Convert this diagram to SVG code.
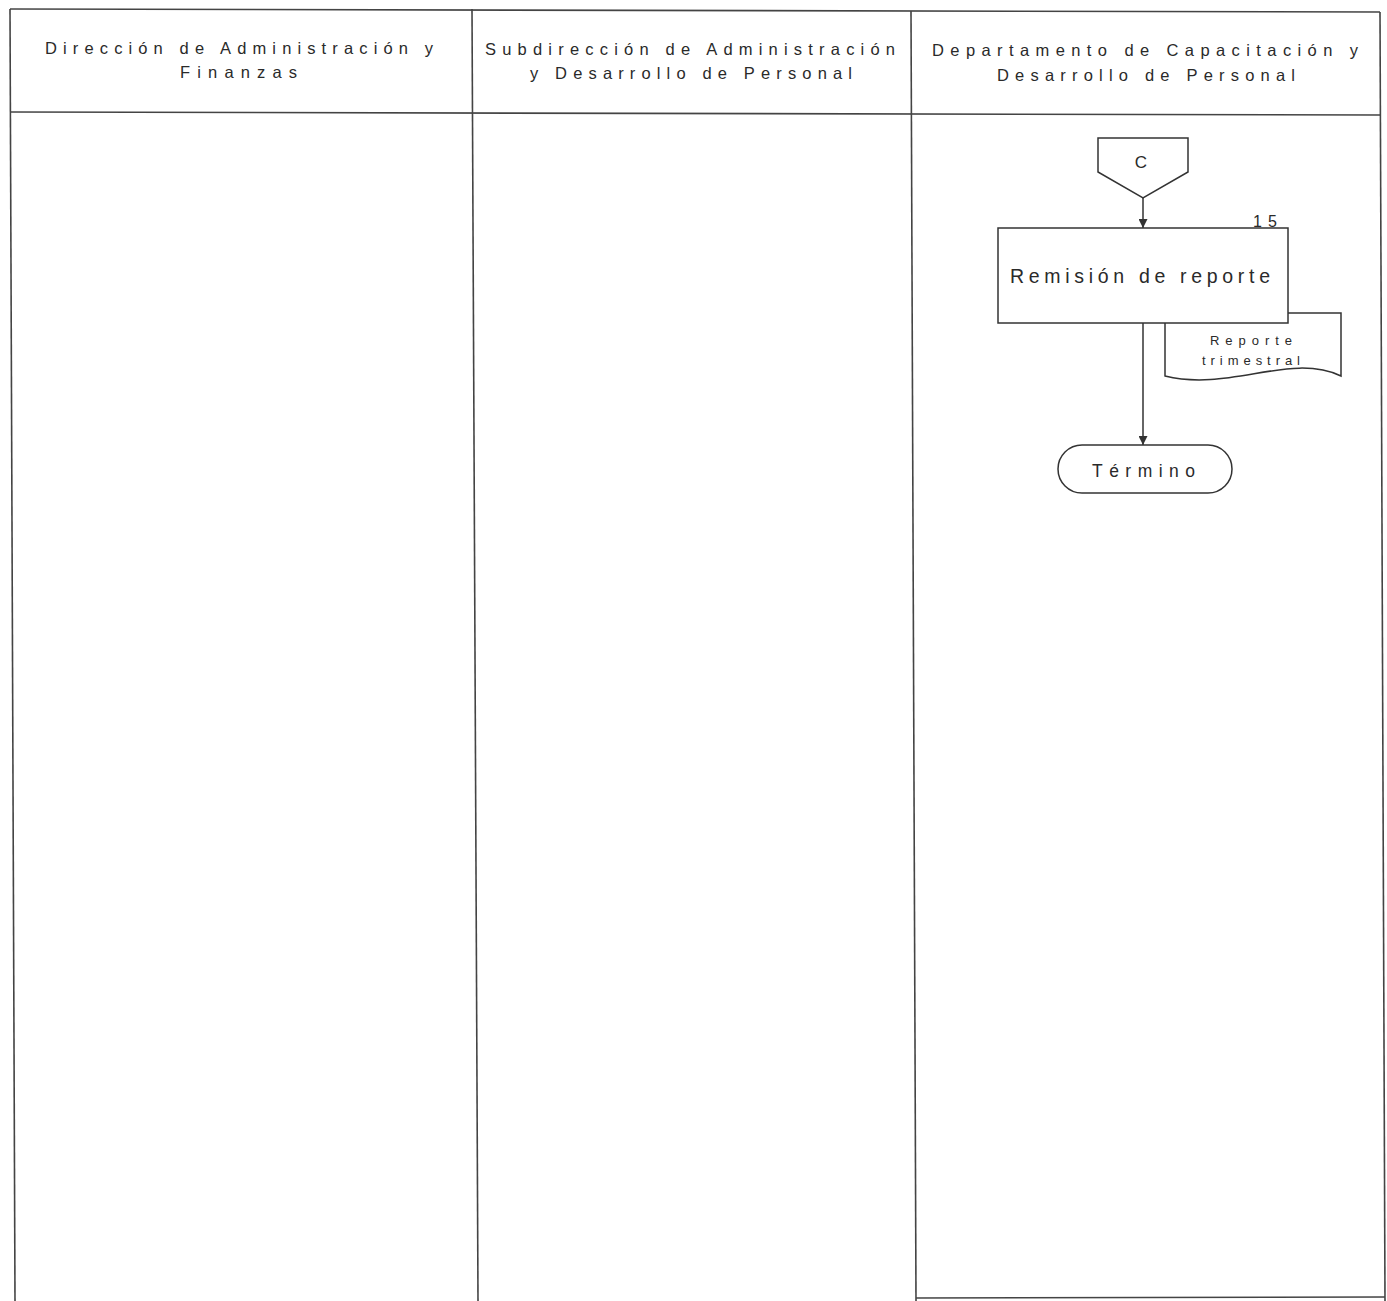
<svg xmlns="http://www.w3.org/2000/svg" width="1387" height="1301" viewBox="0 0 1387 1301">
<style>
.frame{stroke:#444;stroke-width:1.6;fill:none}
.shape{stroke:#333;stroke-width:1.5;fill:#fff}
.conn{stroke:#333;stroke-width:1.5;fill:none}
.hdr{font-family:"Liberation Sans",Arial,sans-serif;font-size:16.5px;fill:#2a2a2a}
.lbl{font-family:"Liberation Sans",Arial,sans-serif;fill:#2a2a2a}
</style>
<defs>
<marker id="arr" viewBox="0 0 10 10" refX="10" refY="5" markerWidth="9" markerHeight="9" markerUnits="userSpaceOnUse" orient="auto">
<path d="M0,0 L10,5 L0,10 Z" fill="#333"/>
</marker>
</defs>
<rect width="1387" height="1301" fill="#fff"/>
<g id="frame">
<line class="frame" x1="10" y1="9" x2="1380" y2="12"/>
<line class="frame" x1="10" y1="112" x2="1380" y2="115"/>
<line class="frame" x1="10" y1="9" x2="15" y2="1301"/>
<line class="frame" x1="472" y1="9" x2="478" y2="1301"/>
<line class="frame" x1="911" y1="11" x2="916" y2="1301"/>
<line class="frame" x1="1380" y1="12" x2="1385" y2="1301"/>
<line class="frame" x1="916" y1="1298" x2="1385" y2="1297"/>
</g>
<g id="headers">
<text class="hdr" x="45" y="54" textLength="388" lengthAdjust="spacing">Dirección de Administración y</text>
<text class="hdr" x="180" y="78" textLength="117" lengthAdjust="spacing">Finanzas</text>
<text class="hdr" x="485" y="55" textLength="410" lengthAdjust="spacing">Subdirección de Administración</text>
<text class="hdr" x="530" y="79" textLength="322" lengthAdjust="spacing">y Desarrollo de Personal</text>
<text class="hdr" x="932" y="56" textLength="426" lengthAdjust="spacing">Departamento de Capacitación y</text>
<text class="hdr" x="997" y="81" textLength="298" lengthAdjust="spacing">Desarrollo de Personal</text>
</g>
<g id="connectors">
<line class="conn" x1="1143" y1="198" x2="1143" y2="228" marker-end="url(#arr)"/>
<line class="conn" x1="1143" y1="323" x2="1143" y2="445" marker-end="url(#arr)"/>
</g>
<g id="node-c">
<path class="shape" d="M1098,138 L1188,138 L1188,172 L1143,198 L1098,172 Z"/>
<text class="lbl" x="1141" y="168" font-size="17" text-anchor="middle">C</text>
</g>
<g id="node-doc">
<path class="shape" d="M1165,313 L1341,313 L1341,376 C1290,352 1230,392 1165,376 Z"/>
<text class="lbl" x="1210" y="345" font-size="13" textLength="82" lengthAdjust="spacing">Reporte</text>
<text class="lbl" x="1202" y="365" font-size="13" textLength="98" lengthAdjust="spacing">trimestral</text>
</g>
<g id="node-15">
<rect class="shape" x="998" y="228" width="290" height="95"/>
<text class="lbl" x="1010" y="283" font-size="19.5" textLength="260" lengthAdjust="spacing">Remisión de reporte</text>
<text class="lbl" x="1253" y="227" font-size="16" textLength="24" lengthAdjust="spacing">15</text>
</g>
<g id="node-termino">
<rect class="shape" x="1058" y="445" width="174" height="48" rx="24" ry="24"/>
<text class="lbl" x="1092" y="477" font-size="17.5" textLength="103" lengthAdjust="spacing">Término</text>
</g>
</svg>
